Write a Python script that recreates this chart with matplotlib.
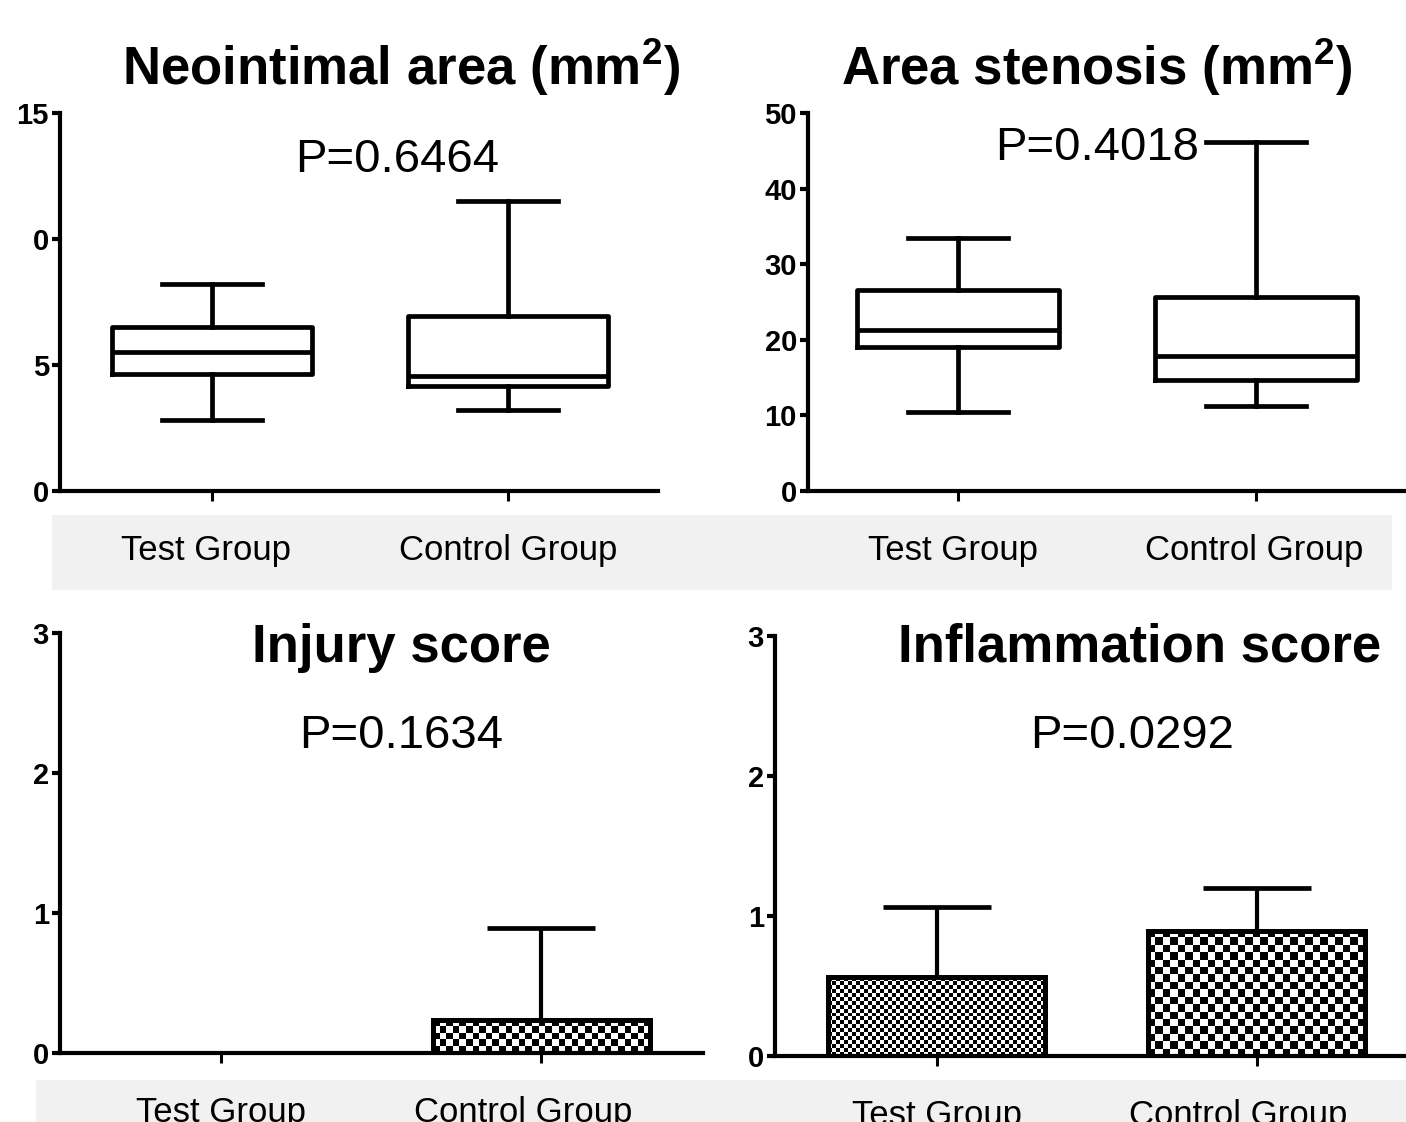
import matplotlib
matplotlib.use("Agg")
import matplotlib.pyplot as plt
import matplotlib.transforms as mtransforms
from matplotlib.patches import Rectangle
import numpy as np

plt.rcParams["font.family"] = ["Liberation Sans", "DejaVu Sans"]
plt.rcParams["mathtext.fontset"] = "custom"
plt.rcParams["mathtext.rm"] = "Liberation Sans"
plt.rcParams["mathtext.bf"] = "Liberation Sans:bold"

groups = ["Test Group", "Control Group"]
positions = [1, 2]

# neointimal area box plots (mm2)
neo_low = [2.8, 3.2]
neo_q1 = [4.65, 4.15]
neo_med = [5.5, 4.55]
neo_q3 = [6.5, 6.95]
neo_high = [8.2, 11.5]
neo_ticks = [0, 5, 10, 15]
neo_ticklabels = ["0", "5", "0", "15"]

# area stenosis box plots
sten_low = [10.4, 11.2]
sten_q1 = [19.0, 14.7]
sten_med = [21.3, 17.9]
sten_q3 = [26.6, 25.7]
sten_high = [33.5, 46.2]
sten_ticks = [0, 10, 20, 30, 40, 50]

# scores, mean and upper error
injury_mean = [0.0, 0.236]
injury_err = [0.0, 0.657]
inflam_mean = [0.564, 0.893]
inflam_err = [0.5, 0.307]
score_ticks = [0, 1, 2, 3]

titles = [r"Neointimal area (mm$^{\mathbf{2}}$)", r"Area stenosis (mm$^{\mathbf{2}}$)",
          "Injury score", "Inflammation score"]
pvalues = ["P=0.6464", "P=0.4018", "P=0.1634", "P=0.0292"]

W, H = 1406, 1122
fig = plt.figure(figsize=(W / 100, H / 100), dpi=100)


def px_axes(x0, y0, x1, y1):
    return fig.add_axes([x0 / W, 1 - y1 / H, (x1 - x0) / W, (y1 - y0) / H], facecolor="none")


def style(ax, ticks, labels, ylim, xlim, shift=(0, 0)):
    for s in ("top", "right"):
        ax.spines[s].set_visible(False)
    for s in ("left", "bottom"):
        ax.spines[s].set_linewidth(3)
    ax.set_ylim(*ylim)
    ax.set_xlim(*xlim)
    ax.set_yticks(ticks)
    ax.set_yticklabels(labels, fontweight="bold")
    ax.tick_params(axis="y", length=6, width=3, labelsize=21, pad=2)
    ax.set_xticks(positions)
    ax.set_xticklabels(groups)
    ax.tick_params(axis="x", length=7, width=2.2, labelsize=25, pad=24)
    for lab, dx in zip(ax.get_xticklabels(), shift):
        if dx:
            lab.set_transform(lab.get_transform() +
                              mtransforms.ScaledTranslation(dx / 100, 0, fig.dpi_scale_trans))


def boxes(ax, low, q1, med, q3, high):
    stats = [dict(whislo=low[i], q1=q1[i], med=med[i], q3=q3[i], whishi=high[i])
             for i in range(len(low))]
    lp = dict(color="black", linewidth=3.4)
    ax.bxp(stats, positions=positions, widths=0.676, capwidths=0.338, showfliers=False,
           manage_ticks=False, boxprops=lp, whiskerprops=lp, capprops=lp, medianprops=lp)


def bars(ax, mean, err, cells):
    mean = np.array(mean)
    err = np.array(err)
    b = ax.bar(positions, mean, width=0.678, facecolor="none", edgecolor="black",
               linewidth=3.6, zorder=3)
    for bar, m, cell in zip(b, mean, cells):
        if m == 0:
            bar.set_linewidth(0)
            continue
        bb = bar.get_window_extent()
        nx = max(1, int(round(bb.width / cell)))
        ny = max(1, int(round(bb.height / cell)))
        arr = np.indices((ny, nx)).sum(axis=0) % 2
        x0 = bar.get_x()
        im = ax.imshow(arr, cmap="gray", vmin=0, vmax=1, interpolation="nearest",
                       aspect="auto", zorder=2,
                       extent=(x0, x0 + bar.get_width(), 0, bar.get_height()))
        im.set_clip_path(bar)
    mask = err > 0
    pos = np.array(positions)[mask]
    ax.errorbar(pos, mean[mask], yerr=[np.zeros(mask.sum()), err[mask]], fmt="none",
                ecolor="black", elinewidth=3, capsize=39, capthick=3.4, zorder=2.5)


# gray label bands, behind the axes
fig.patches.append(Rectangle((52 / W, 1 - 590 / H), (1392 - 52) / W, 75 / H,
                             transform=fig.transFigure, facecolor="#f1f1f1",
                             edgecolor="none", zorder=-5))
fig.patches.append(Rectangle((36 / W, 0), (W - 36) / W, 42 / H,
                             transform=fig.transFigure, facecolor="#f1f1f1",
                             edgecolor="none", zorder=-5))

ax1 = px_axes(60, 113, 658, 491)
boxes(ax1, neo_low, neo_q1, neo_med, neo_q3, neo_high)
style(ax1, neo_ticks, neo_ticklabels, (0, 15), (0.486, 2.507), shift=(-6, 0))

ax2 = px_axes(808, 113, 1406, 491)
boxes(ax2, sten_low, sten_q1, sten_med, sten_q3, sten_high)
style(ax2, sten_ticks, [str(t) for t in sten_ticks], (0, 50), (0.497, 2.503), shift=(-5, -2))

ax3 = px_axes(60, 633, 703, 1053)
style(ax3, score_ticks, [str(t) for t in score_ticks], (0, 3), (0.497, 2.506), shift=(0, -18))
bars(ax3, injury_mean, injury_err, [6.5, 6.5])
ax3.set_xlim(0.497, 2.506)
ax3.set_ylim(0, 3)

ax4 = px_axes(775, 636, 1406, 1056)
style(ax4, score_ticks, [str(t) for t in score_ticks], (0, 3), (0.494, 2.466), shift=(0, -19))
bars(ax4, inflam_mean, inflam_err, [4.0, 7.4])
ax4.set_xlim(0.494, 2.466)
ax4.set_ylim(0, 3)

# titles and p values
title_pos = [(401, 85), (1097, 85), (401, 662), (1140, 662)]
p_pos = [(397, 172), (1097, 160), (401, 748), (1132, 748)]
for t, (x, y) in zip(titles, title_pos):
    fig.text(x / W, 1 - y / H, t, fontsize=38, fontweight="bold", ha="center", va="baseline")
for p, (x, y) in zip(pvalues, p_pos):
    fig.text(x / W, 1 - y / H, p, fontsize=34, ha="center", va="baseline")

fig.savefig("out.png", dpi=100)
